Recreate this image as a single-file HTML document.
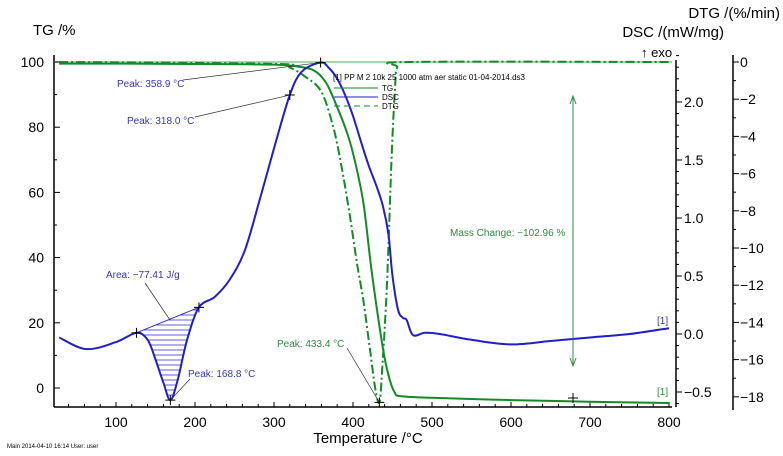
<!DOCTYPE html>
<html><head><meta charset="utf-8"><style>
body{margin:0;background:#fff;}
svg{display:block;font-family:"Liberation Sans",Arial,sans-serif;}
</style></head><body>
<svg id="c" width="783" height="456" viewBox="0 0 783 456">
<g id="axes"></g><g id="marks"></g><g id="ann"></g>
</svg>
<script>
const temps=[28,62,100,126,140,150,160,168.8,178,190,205,225,244,263,282,300,320,335,359,370,380,390,400,410,420,430,438,445,450,457,463,468,476,491,510,550,600,650,700,750,800];
const dscVals=[-0.03,-0.13,-0.07,0.01,-0.05,-0.22,-0.42,-0.57,-0.4,-0.05,0.23,0.32,0.47,0.72,1.16,1.6,2.06,2.26,2.34,2.29,2.2,2.06,1.88,1.66,1.45,1.27,1.1,0.85,0.5,0.21,0.14,0.12,-0.01,0.01,0.0,-0.05,-0.09,-0.06,-0.03,0.0,0.05];
const tgTemps=[28,100,200,300,330,350,365,375,390,400,413,424,438,446,453,460,500,600,700,800];
const tgVals=[99.5,99.5,99.4,99.2,98.6,97.5,94,89,80,72,57,35,12,3,-1.5,-2.5,-3,-3.7,-4.2,-4.6];
const dtgTemps=[28,300,320,340,360,375,385,395,405,413,421,428,433.4,437,443,449,453,456,470,800];
const dtgVals=[0,-0.1,-0.3,-0.8,-1.6,-3.5,-5.5,-8,-10.8,-12.8,-15.3,-17.5,-18.3,-16.5,-11.9,-5,-1.6,-0.3,0,0];
const xTicks=[100,200,300,400,500,600,700,800];
const tgTicks=[0,20,40,60,80,100];
const dscTicks=[-0.5,0.0,0.5,1.0,1.5,2.0];
const dtgTicks=[0,-2,-4,-6,-8,-10,-12,-14,-16,-18];

const X=t=>669-(800-t)*0.79;
const YTG=v=>388-3.26*v;
const YDSC=v=>334-116*v;
const YDTG=v=>62-18.6*v;
const NS="http://www.w3.org/2000/svg";
function mk(tag,attrs,parent,txt){const e=document.createElementNS(NS,tag);for(const k in attrs)e.setAttribute(k,attrs[k]);if(txt!==undefined)e.textContent=txt;document.getElementById(parent).appendChild(e);return e;}
function pathFrom(ts,vs,yf){let d='';const n=ts.length;const P=ts.map((t,i)=>[X(t),yf(vs[i])]);d='M'+P[0][0].toFixed(1)+','+P[0][1].toFixed(1);
for(let i=0;i<n-1;i++){const p0=P[Math.max(0,i-1)],p1=P[i],p2=P[i+1],p3=P[Math.min(n-1,i+2)];
const c1=[p1[0]+(p2[0]-p0[0])/6,p1[1]+(p2[1]-p0[1])/6],c2=[p2[0]-(p3[0]-p1[0])/6,p2[1]-(p3[1]-p1[1])/6];
d+=' C'+c1.map(v=>v.toFixed(1))+' '+c2.map(v=>v.toFixed(1))+' '+p2.map(v=>v.toFixed(1));}return d;}

let e;
e=mk('line',{x1:54,y1:55,x2:54,y2:407,stroke:'#000','stroke-width':1.5},'axes');

e=mk('line',{x1:54,y1:407,x2:672,y2:407,stroke:'#000','stroke-width':1.5},'axes');

e=mk('line',{x1:676,y1:60,x2:676,y2:407,stroke:'#000','stroke-width':1.5},'axes');

e=mk('line',{x1:733,y1:55,x2:733,y2:410,stroke:'#000','stroke-width':1.5},'axes');

e=mk('line',{x1:54,y1:62,x2:672,y2:62,stroke:'#8cc79a','stroke-width':1.5},'axes');

for(let t=40;t<=800;t+=20){mk('line',{x1:X(t),y1:407,x2:X(t),y2:t%100?404:402,stroke:'#000'},'axes');}
xTicks.forEach(t=>{e=mk('text',{x:X(t),y:427,'text-anchor':'middle','font-size':14},'axes',t);
});
for(let v=0;v<=100;v+=10){mk('line',{x1:54,y1:YTG(v),x2:v%20?57:60,y2:YTG(v),stroke:'#000'},'axes');}
tgTicks.forEach(v=>{e=mk('text',{x:44,y:YTG(v)+5,'text-anchor':'end','font-size':14},'axes',v);
});
for(let v=-0.6;v<=2.41;v+=0.1){mk('line',{x1:676,y1:YDSC(v),x2:Math.abs(Math.round(v*10))%5?679:682,y2:YDSC(v),stroke:'#000'},'axes');}
dscTicks.forEach(v=>{e=mk('text',{x:684,y:YDSC(v)+5,'font-size':14},'axes',(v<0?'\u2212':'')+Math.abs(v).toFixed(1));
});
for(let v=0;v>=-18;v-=1){mk('line',{x1:733,y1:YDTG(v),x2:v%2?736:739,y2:YDTG(v),stroke:'#000'},'axes');}
dtgTicks.forEach(v=>{e=mk('text',{x:740,y:YDTG(v)+5,'font-size':14},'axes',(v<0?'\u2212':'')+Math.abs(v));
});
e=mk('text',{x:33,y:35,'font-size':15},'axes','TG /%');
e=mk('text',{x:780,y:18,'font-size':15,'text-anchor':'end'},'axes','DTG /(%/min)');
e=mk('text',{x:724,y:37,'font-size':15,'text-anchor':'end'},'axes','DSC /(mW/mg)');
e=mk('text',{x:641,y:57,'font-size':13},'axes','\u2191 exo');
e=mk('text',{x:368,y:443,'font-size':15,'text-anchor':'middle'},'axes','Temperature /\u00b0C');
e=mk('text',{x:7,y:448,'font-size':6},'axes','Main   2014-04-10 16:14   User: user');

const bx1=X(126),by1=YDSC(0.01),bx2=X(205),by2=YDSC(0.23);
let cp=mk('clipPath',{id:'dipclip'},'marks');
let ad=pathFrom(temps.slice(3,11),dscVals.slice(3,11),YDSC)+' Z';
let cpp=document.createElementNS(NS,'path');cpp.setAttribute('d',ad);cp.appendChild(cpp);
for(let y=300;y<=402;y+=5){e=mk('line',{x1:130,y1:y,x2:205,y2:y,stroke:'#2b2bd0','stroke-width':0.8,'clip-path':'url(#dipclip)'},'marks');}
e=mk('line',{x1:bx1,y1:by1,x2:bx2,y2:by2,stroke:'#2b2bd0','stroke-width':1},'marks');


e=mk('path',{d:pathFrom(tgTemps,tgVals,YTG),fill:'none',stroke:'#138a26','stroke-width':2},'marks');

e=mk('path',{d:pathFrom(dtgTemps,dtgVals,YDTG),fill:'none',stroke:'#138a26','stroke-width':2,'stroke-dasharray':'9,3,2,3'},'marks');

e=mk('path',{d:pathFrom(temps,dscVals,YDSC),fill:'none',stroke:'#1f1fc8','stroke-width':2},'marks');


e=mk('text',{x:333,y:80,'font-size':8},'ann','[1] PP M 2 10k 25 1000 atm aer static 01-04-2014.ds3');
[['TG','#138a26','',88],['DSC','#1f1fc8','',97],['DTG','#138a26','6,4',106]].forEach(r=>{
e=mk('line',{x1:334,y1:r[3],x2:378,y2:r[3],stroke:r[1],'stroke-dasharray':r[2]},'ann');

e=mk('text',{x:382,y:r[3]+3,'font-size':8},'ann',r[0]);
});

function lab(x,y,t,col,name){e=mk('text',{x:x,y:y,'font-size':10,fill:col},'ann',t);}
function ln(a,b,c,d){mk('line',{x1:a,y1:b,x2:c,y2:d,stroke:'#333','stroke-width':0.7},'ann');}
function cross(x,y){mk('path',{d:`M${x-5},${y}H${x+5}M${x},${y-5}V${y+5}`,stroke:'#000','stroke-width':1},'ann');}
lab(117,87,'Peak: 358.9 \u00b0C','#3535b0','peak-358-label');ln(183,80,X(359),YDSC(2.34));
lab(127,124,'Peak: 318.0 \u00b0C','#3535b0','peak-318-label');ln(195,117,X(320),YDSC(2.06));
lab(106,278,'Area: \u221277.41 J/g','#3535b0','area-label');ln(145,283,170,320);
lab(188,377,'Peak: 168.8 \u00b0C','#3535b0','peak-168-label');ln(190,379,X(168.8),YDSC(-0.57));
lab(277,347,'Peak: 433.4 \u00b0C','#2e8b3e','peak-433-label');ln(347,348,X(433.4),YDTG(-18.3));
lab(450,236,'Mass Change: \u2212102.96 %','#2e8b3e','mass-change-label');
cross(bx1,by1);cross(bx2,by2);cross(X(168.8),YDSC(-0.57));cross(X(320),YDSC(2.06));cross(X(359),YDSC(2.34));cross(X(433.4),YDTG(-18.3));cross(573,398);
e=mk('line',{x1:573,y1:97,x2:573,y2:365,stroke:'#2e8b3e','stroke-width':1},'ann');

mk('path',{d:'M570,104L573,96L576,104M570,358L573,366L576,358',fill:'none',stroke:'#2e8b3e'},'ann');
lab(657,324,'[1]','#3535b0','dsc-curve-tag');lab(657,395,'[1]','#2e8b3e','tg-curve-tag');
</script>
</body></html>
